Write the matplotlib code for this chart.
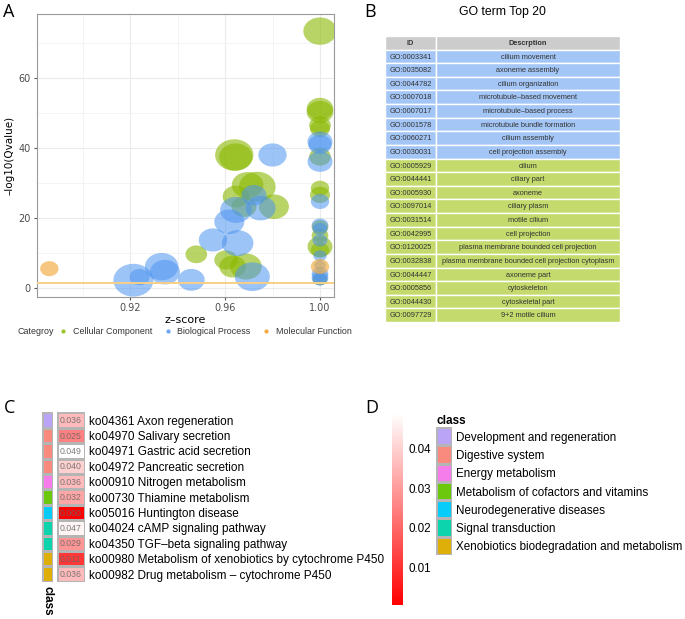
import numpy as np
import matplotlib
matplotlib.use("Agg")
import matplotlib.pyplot as plt
from matplotlib.path import Path
from matplotlib.lines import Line2D
from matplotlib.colors import LinearSegmentedColormap, ListedColormap, Normalize

plt.rcParams['font.family'] = ['Liberation Sans', 'DejaVu Sans']

# ---- panel A: GO bubble data (z-score, -log10 Qvalue, bubble size) ----
bp_z = [0.9214, 0.924, 0.9333, 0.9347, 0.9458, 0.9549, 0.9618, 0.9646, 0.9653, 0.9715, 0.9722, 0.975, 0.980,
        1.0, 1.0, 1.0, 1.0, 1.0, 1.0, 1.0, 1.0, 1.0, 1.0, 1.0, 1.0]
bp_q = [2.2, 3.1, 6.1, 4.5, 2.3, 13.7, 18.9, 22.3, 12.8, 3.2, 26.5, 22.8, 38.0,
        41.8, 41.0, 36.1, 24.7, 17.9, 16.8, 13.6, 9.2, 6.5, 4.0, 3.0, 2.4]
bp_n = [12, 6, 10, 9, 8, 8.5, 9, 9.5, 9.5, 10.5, 7.5, 9, 8.5,
        7.5, 7, 7.5, 5.5, 5, 4.5, 4.5, 4, 3.5, 5, 5, 4.5]

cc_z = [0.9479, 0.9604, 0.9632, 0.9688, 0.9639, 0.9645, 0.9736, 0.9695, 0.9646, 0.968, 0.9806,
        1.0, 1.0, 1.0, 1.0, 1.0, 1.0, 1.0, 1.0, 1.0, 1.0, 1.0, 1.0, 1.0]
cc_q = [9.6, 8.0, 6.1, 6.1, 38.0, 37.4, 28.9, 29.4, 26.1, 23.2, 23.2,
        73.4, 51.2, 50.3, 46.5, 45.5, 37.5, 28.5, 26.6, 17.4, 15.0, 11.8, 10.8, 2.5]
cc_n = [6.5, 7, 8, 9.5, 11.5, 10, 11, 9.5, 8, 7.5, 9,
        10, 8, 8, 6.5, 6, 6.5, 5.5, 6, 5, 5, 7.5, 5.5, 4.5]

mf_z = [0.886, 1.0]
mf_q = [5.5, 6.1]
mf_n = [5.5, 5.5]

q_cutoff = 1.3

# ---- panel B: GO term table ----
go_ids = ["GO:0003341", "GO:0035082", "GO:0044782", "GO:0007018", "GO:0007017", "GO:0001578",
          "GO:0060271", "GO:0030031", "GO:0005929", "GO:0044441", "GO:0005930", "GO:0097014",
          "GO:0031514", "GO:0042995", "GO:0120025", "GO:0032838", "GO:0044447", "GO:0005856",
          "GO:0044430", "GO:0097729"]
go_desc = ["cilium movement", "axoneme assembly", "cilium organization", "microtubule\u2013based movement",
           "microtubule\u2013based process", "microtubule bundle formation", "cilium assembly",
           "cell projection assembly", "cilium", "ciliary part", "axoneme", "ciliary plasm",
           "motile cilium", "cell projection", "plasma membrane bounded cell projection",
           "plasma membrane bounded cell projection cytoplasm", "axoneme part", "cytoskeleton",
           "cytoskeletal part", "9+2 motile cilium"]
go_cat = ["BP"] * 8 + ["CC"] * 12

# ---- panel C/D: KEGG heatmap ----
kegg_terms = ["ko04361 Axon regeneration", "ko04970 Salivary secretion", "ko04971 Gastric acid secretion",
              "ko04972 Pancreatic secretion", "ko00910 Nitrogen metabolism", "ko00730 Thiamine metabolism",
              "ko05016 Huntington disease", "ko04024 cAMP signaling pathway",
              "ko04350 TGF\u2013beta signaling pathway",
              "ko00980 Metabolism of xenobiotics by cytochrome P450",
              "ko00982 Drug metabolism \u2013 cytochrome P450"]
kegg_p = [0.036, 0.025, 0.049, 0.040, 0.036, 0.032, 0.0004, 0.047, 0.029, 0.011, 0.036]
class_names = ["Development and regeneration", "Digestive system", "Energy metabolism",
               "Metabolism of cofactors and vitamins", "Neurodegenerative diseases",
               "Signal transduction", "Xenobiotics biodegradation and metabolism"]
class_colors = ["#B9A4F8", "#F98B7E", "#F57DEB", "#6CC80C", "#05CCF8", "#0CD4AC", "#DDAF08"]
kegg_class = [0, 1, 1, 1, 2, 3, 4, 5, 5, 6, 6]

W, H = 685, 619
fig = plt.figure(figsize=(W / 100, H / 100), dpi=100)


def px_axes(l, t, r, b):
    return fig.add_axes([l / W, 1 - b / H, (r - l) / W, (b - t) / H])


# ---------------- A ----------------
th = np.linspace(0, 2 * np.pi, 64)
ell = Path(np.column_stack([1.22 * np.cos(th), np.sin(th)]), closed=True)

axA = px_axes(37, 14, 334, 297)
axA.set_xlim(0.8808, 1.0059)
axA.set_ylim(-2.6, 78.3)
for z, q, n, col, a in [(cc_z, cc_q, cc_n, '#8AB800', 0.6),
                        (bp_z, bp_q, bp_n, '#4D94F0', 0.55),
                        (mf_z, mf_q, mf_n, '#F2AA3C', 0.65)]:
    axA.scatter(z, q, s=(2.4 * np.array(n)) ** 2, marker=ell, c=col, alpha=a, linewidths=0, zorder=3)
axA.axhline(q_cutoff, color='#F7CF86', lw=1.4, zorder=4)
axA.set_xticks([0.92, 0.96, 1.00])
axA.set_xticks([0.90, 0.94, 0.98], minor=True)
axA.set_yticks([0, 20, 40, 60])
axA.set_yticks([10, 30, 50, 70], minor=True)
axA.grid(True, which='major', color='#EBEBEB', lw=0.8)
axA.grid(True, which='minor', color='#F3F3F3', lw=0.6)
axA.set_axisbelow(True)
axA.tick_params(which='major', length=2.5, color='#555555', labelsize=7, labelcolor='#4D4D4D', pad=2)
axA.tick_params(which='minor', length=0)
for lb in axA.get_xticklabels() + axA.get_yticklabels():
    lb.set_family('DejaVu Sans')
for s in axA.spines.values():
    s.set_color('#999999')
    s.set_linewidth(0.8)
axA.set_xlabel('z\u2013score', fontsize=8, labelpad=1, family='DejaVu Sans')
axA.set_ylabel('\u2013log10(Qvalue)', fontsize=7.5, labelpad=3, family='DejaVu Sans')

fig.text(17 / W, 1 - 332 / H, 'Categroy', fontsize=6.4, color='#333333', va='center')
hd = [Line2D([], [], ls='none', marker='o', ms=2, color=c) for c in ['#9BC32A', '#6BA6F2', '#F2AA3C']]
fig.legend(hd, ['Cellular Component', 'Biological Process', 'Molecular Function'], ncol=3,
           loc='center left', bbox_to_anchor=(59 / W, 1 - 332 / H), frameon=False, fontsize=6.4,
           handlelength=1.0, handletextpad=0.6, columnspacing=1.2, labelcolor='#333333',
           borderaxespad=0, borderpad=0)

fig.text(3 / W, 1 - 3 / H, 'A', fontsize=13, va='top', family='Open Sans')

# ---------------- B ----------------
fig.text(364 / W, 1 - 3 / H, 'B', fontsize=13, va='top', family='Open Sans')
fig.text(502 / W, 1 - 12 / H, 'GO term Top 20', fontsize=8.8, ha='center', va='center')

axB = px_axes(385, 36, 620, 322)
nrow = len(go_ids) + 1
axB.set_xlim(0, 235)
axB.set_ylim(nrow, 0)
axB.axis('off')
row_col = {'BP': '#A3C6F6', 'CC': '#C4DA6C'}
cells = [('ID', 'Descrption', '#CCCCCC', 'bold')] + \
        [(i, d, row_col[c], 'normal') for i, d, c in zip(go_ids, go_desc, go_cat)]
for r, (gid, ds, fc, fw) in enumerate(cells):
    axB.barh(r + 0.5, 51, left=0, height=1, color=fc, edgecolor='white', lw=1)
    axB.barh(r + 0.5, 184, left=51, height=1, color=fc, edgecolor='white', lw=1)
    axB.text(25.5, r + 0.55, gid, ha='center', va='center', fontsize=5.3, color='#333333', fontweight=fw)
    axB.text(143, r + 0.55, ds, ha='center', va='center', fontsize=5.3, color='#333333', fontweight=fw)

# ---------------- C ----------------
fig.text(4 / W, 1 - 399 / H, 'C', fontsize=13, va='top', family='Open Sans')
red_white = LinearSegmentedColormap.from_list('rw', ['#FF0000', '#FFFFFF'])
norm = Normalize(vmin=min(kegg_p), vmax=max(kegg_p))
class_cmap = ListedColormap(class_colors)

axCls = px_axes(42.3, 412.3, 52.7, 581.7)
axCls.pcolormesh(np.array(kegg_class)[:, None], cmap=class_cmap, vmin=-0.5, vmax=len(class_colors) - 0.5,
                 edgecolors='#B5B5B5', lw=0.8)
axCls.set_ylim(len(kegg_class), 0)
axCls.set_yticks([])
axCls.set_xticks([0.5])
axCls.set_xticklabels(['class'], rotation=270, fontweight='bold', fontsize=8.5)
axCls.tick_params(length=0, pad=3)
for s in axCls.spines.values():
    s.set_visible(False)

axC = px_axes(56.7, 412.3, 85, 581.7)
mesh = axC.pcolormesh(np.array(kegg_p)[:, None], cmap=red_white, norm=norm, edgecolors='#B5B5B5', lw=0.8)
axC.set_ylim(len(kegg_p), 0)
axC.set_xticks([])
axC.set_yticks(np.arange(len(kegg_p)) + 0.5)
axC.set_yticklabels(kegg_terms, fontsize=8.5)
axC.yaxis.tick_right()
axC.tick_params(length=0, pad=3)
for s in axC.spines.values():
    s.set_visible(False)
for i, p in enumerate(kegg_p):
    axC.text(0.5, i + 0.55, '%.3f' % p, ha='center', va='center', fontsize=6.3, color='#666666', alpha=0.85)

# ---------------- D ----------------
fig.text(365 / W, 1 - 399 / H, 'D', fontsize=13, va='top', family='Open Sans')
axCb = px_axes(392, 413, 403, 605)
cb = fig.colorbar(mesh, cax=axCb, ticks=[0.01, 0.02, 0.03, 0.04])
cb.outline.set_visible(False)
cb.ax.tick_params(length=0, labelsize=8.4, pad=4)
cb.ax.set_yticklabels(['0.01', '0.02', '0.03', '0.04'])

axL = px_axes(436, 427, 452, 555)
axL.pcolormesh(np.arange(len(class_names))[:, None], cmap=class_cmap, vmin=-0.5,
               vmax=len(class_colors) - 0.5, edgecolors='#B5B5B5', lw=0.8)
axL.set_ylim(len(class_names), 0)
axL.set_xticks([])
axL.set_yticks(np.arange(len(class_names)) + 0.5)
axL.set_yticklabels(class_names, fontsize=8.4)
axL.yaxis.tick_right()
axL.tick_params(length=0, pad=3)
for s in axL.spines.values():
    s.set_visible(False)
axL.set_title('class', loc='left', fontsize=8.5, fontweight='bold', pad=2)

fig.savefig('out.png', dpi=100)
